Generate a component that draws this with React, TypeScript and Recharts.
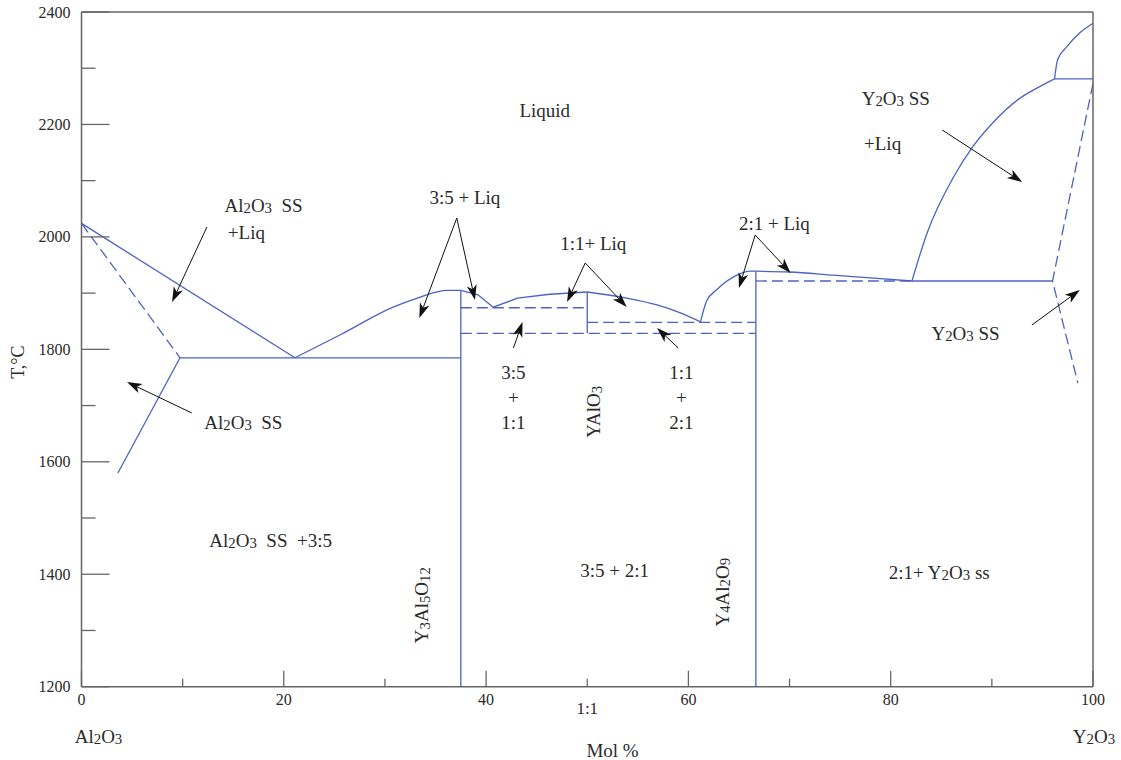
import React from 'react';
import { ComposedChart, Line, XAxis, YAxis, ReferenceLine, ReferenceDot } from 'recharts';

// ---------- axes ----------
const xTicks = [0, 10, 20, 30, 40, 50, 60, 70, 80, 90, 100];
const yTicks = [1200, 1300, 1400, 1500, 1600, 1700, 1800, 1900, 2000, 2100, 2200, 2300, 2400];
const xTickLabels = ['0', '20', '40', '60', '80', '100'];
const yTickLabels = ['1200', '1400', '1600', '1800', '2000', '2200', '2400'];
const endMemberLabels = [
  { value: 0, text: 'Al_2O_3' },
  { value: 100, text: 'Y_2O_3' },
];
const midCompositionLabel = { value: 50, text: '1:1' };
const xTitle = 'Mol %';
const yTitle = 'T,°C';

// ---------- phase boundaries (x = mol % Y2O3, t = °C) ----------
const al2o3Liquidus = [{ x: 0, t: 2024 }, { x: 21.1, t: 1785 }];
const yagLiquidusLeft = [
  { x: 21.1, t: 1785 }, { x: 25.6, t: 1826 }, { x: 30.8, t: 1875 },
  { x: 33.5, t: 1893 }, { x: 36.1, t: 1905 }, { x: 37.5, t: 1905 },
];
const yagToYap = [
  { x: 37.5, t: 1905 }, { x: 39.2, t: 1897 }, { x: 40.7, t: 1875 },
  { x: 43.1, t: 1891 }, { x: 46.3, t: 1898 }, { x: 50, t: 1902 },
];
const yapLiquidus = [
  { x: 50, t: 1902 }, { x: 53.9, t: 1891 }, { x: 56.9, t: 1879 },
  { x: 59.2, t: 1865 }, { x: 61.2, t: 1849 },
];
const yamLiquidusLeft = [
  { x: 61.2, t: 1849 }, { x: 61.8, t: 1886 }, { x: 62.8, t: 1906 },
  { x: 64.8, t: 1932 }, { x: 66.1, t: 1939 }, { x: 66.67, t: 1939 },
];
const yamLiquidusRight = [
  { x: 66.67, t: 1939 }, { x: 70, t: 1937.6 }, { x: 74.3, t: 1932 },
  { x: 78, t: 1927 }, { x: 82.1, t: 1921.6 },
];
const y2o3Liquidus = [
  { x: 82.1, t: 1921.6 }, { x: 83.6, t: 2007 }, { x: 86.2, t: 2106 },
  { x: 88.1, t: 2160 }, { x: 90.1, t: 2203 }, { x: 92.8, t: 2247 },
  { x: 94.5, t: 2265 }, { x: 96.2, t: 2281 },
];
const y2o3HighLiquidus = [
  { x: 96.2, t: 2281 }, { x: 96.5, t: 2315 }, { x: 97.4, t: 2338 },
  { x: 98.7, t: 2363 }, { x: 100, t: 2380 },
];
const y2o3Transition = [{ x: 96.2, t: 2281 }, { x: 100, t: 2281 }];
const y2o3Eutectic = [{ x: 82.1, t: 1921.6 }, { x: 96.0, t: 1921.6 }];
const y2o3Solvus = [{ x: 100, t: 2273 }, { x: 96.0, t: 1921.6 }, { x: 98.5, t: 1740 }];
const yamSolidus = [{ x: 66.67, t: 1921.6 }, { x: 82.1, t: 1921.6 }];
const al2o3Solvus = [{ x: 0, t: 2024 }, { x: 9.74, t: 1785 }];
const al2o3SsBoundary = [{ x: 9.74, t: 1785 }, { x: 3.6, t: 1580 }];
const al2o3Eutectic = [{ x: 9.74, t: 1785 }, { x: 37.5, t: 1785 }];
const yagLine = [{ x: 37.5, t: 1905 }, { x: 37.5, t: 1200 }];
const yamLine = [{ x: 66.67, t: 1939 }, { x: 66.67, t: 1200 }];
const yapLine = [{ x: 50, t: 1902 }, { x: 50, t: 1828.5 }];
const yagYapUpper = [{ x: 37.5, t: 1874 }, { x: 50, t: 1874 }];
const yagYamLower = [{ x: 37.5, t: 1828.5 }, { x: 66.67, t: 1828.5 }];
const yapYamUpper = [{ x: 50, t: 1848 }, { x: 66.67, t: 1848 }];

// ---------- annotation arrows (from -> tip) ----------
const arrows = [
  { fx: 12.4, ft: 2017.6, tx: 8.95, tt: 1884.2 },
  { fx: 10.9, ft: 1686.8, tx: 4.5, tt: 1741.9 },
  { fx: 37.1, ft: 2033.6, tx: 33.4, tt: 1855.8 },
  { fx: 37.1, ft: 2033.6, tx: 38.9, tt: 1887.8 },
  { fx: 49.8, ft: 1953.6, tx: 48.0, tt: 1884.2 },
  { fx: 49.8, ft: 1953.6, tx: 53.9, tt: 1875.3 },
  { fx: 42.7, ft: 1802.4, tx: 43.6, tt: 1848.6 },
  { fx: 59.0, ft: 1802.4, tx: 56.9, tt: 1838.0 },
  { fx: 66.6, ft: 2003.4, tx: 65.0, tt: 1909.1 },
  { fx: 66.6, ft: 2003.4, tx: 70.1, tt: 1935.8 },
  { fx: 85.1, ft: 2190.1, tx: 93.0, tt: 2097.6 },
  { fx: 93.96, ft: 1843.3, tx: 98.7, tt: 1905.6 },
];

// ---------- region labels ----------
const regionLabels = [
  { text: 'Liquid', x: 45.8, t: 2226, angle: 0 },
  { text: 'Al_2O_3  SS', x: 18.0, t: 2057, angle: 0 },
  { text: '+Liq', x: 16.3, t: 2009, angle: 0 },
  { text: '3:5 + Liq', x: 37.9, t: 2071, angle: 0 },
  { text: '1:1+ Liq', x: 50.6, t: 1989, angle: 0 },
  { text: '2:1 + Liq', x: 68.5, t: 2025, angle: 0 },
  { text: 'Y_2O_3 SS', x: 80.5, t: 2247, angle: 0 },
  { text: '+Liq', x: 79.2, t: 2167, angle: 0 },
  { text: 'Y_2O_3 SS', x: 87.4, t: 1829, angle: 0 },
  { text: 'Al_2O_3  SS', x: 16.0, t: 1671, angle: 0 },
  { text: '3:5', x: 42.7, t: 1760, angle: 0 },
  { text: '+', x: 42.7, t: 1715, angle: 0 },
  { text: '1:1', x: 42.7, t: 1671, angle: 0 },
  { text: '1:1', x: 59.3, t: 1760, angle: 0 },
  { text: '+', x: 59.3, t: 1715, angle: 0 },
  { text: '2:1', x: 59.3, t: 1671, angle: 0 },
  { text: 'YAlO_3', x: 50.6, t: 1689, angle: -90 },
  { text: 'Al_2O_3  SS  +3:5', x: 18.7, t: 1461, angle: 0 },
  { text: 'Y_3Al_5O_1_2', x: 33.6, t: 1345, angle: -90 },
  { text: '3:5 + 2:1', x: 52.7, t: 1408, angle: 0 },
  { text: 'Y_4Al_2O_9', x: 63.3, t: 1368, angle: -90 },
  { text: '2:1+ Y_2O_3 ss', x: 84.8, t: 1404, angle: 0 },
];

const BLUE = '#4c62c4';
const AXIS = '#666666';
const TEXT = '#2a2a2a';
const FONT = '"Liberation Serif", "Times New Roman", serif';

const boundaries = [
  { id: 'al2o3Liq', data: al2o3Liquidus, dashed: false, curve: 'linear' },
  { id: 'yagLiqL', data: yagLiquidusLeft, dashed: false, curve: 'monotoneX' },
  { id: 'yagYap', data: yagToYap, dashed: false, curve: 'linear' },
  { id: 'yapLiq', data: yapLiquidus, dashed: false, curve: 'monotoneX' },
  { id: 'yamLiqL', data: yamLiquidusLeft, dashed: false, curve: 'monotoneX' },
  { id: 'yamLiqR', data: yamLiquidusRight, dashed: false, curve: 'monotoneX' },
  { id: 'y2o3Liq', data: y2o3Liquidus, dashed: false, curve: 'monotoneX' },
  { id: 'y2o3High', data: y2o3HighLiquidus, dashed: false, curve: 'monotoneX' },
  { id: 'y2o3Tr', data: y2o3Transition, dashed: false, curve: 'linear' },
  { id: 'y2o3Eut', data: y2o3Eutectic, dashed: false, curve: 'linear' },
  { id: 'y2o3Solv', data: y2o3Solvus, dashed: true, curve: 'linear' },
  { id: 'yamSol', data: yamSolidus, dashed: true, curve: 'linear' },
  { id: 'al2o3Solv', data: al2o3Solvus, dashed: true, curve: 'linear' },
  { id: 'al2o3Ss', data: al2o3SsBoundary, dashed: false, curve: 'linear' },
  { id: 'al2o3Eut', data: al2o3Eutectic, dashed: false, curve: 'linear' },
  { id: 'yag', data: yagLine, dashed: false, curve: 'linear' },
  { id: 'yam', data: yamLine, dashed: false, curve: 'linear' },
  { id: 'yap', data: yapLine, dashed: false, curve: 'linear' },
  { id: 'yagYapU', data: yagYapUpper, dashed: true, curve: 'linear' },
  { id: 'yagYamL', data: yagYamLower, dashed: true, curve: 'linear' },
  { id: 'yapYamU', data: yapYamUpper, dashed: true, curve: 'linear' },
];

function parseRich(text: string) {
  const parts: { s: string; sub: boolean }[] = [];
  let i = 0;
  let buf = '';
  while (i < text.length) {
    if (text[i] === '_' && i + 1 < text.length) {
      if (buf) { parts.push({ s: buf, sub: false }); buf = ''; }
      const last = parts[parts.length - 1];
      if (last && last.sub) last.s += text[i + 1];
      else parts.push({ s: text[i + 1], sub: true });
      i += 2;
    } else {
      buf += text[i];
      i += 1;
    }
  }
  if (buf) parts.push({ s: buf, sub: false });
  return parts;
}

function RichText({ x, y, text, size, angle = 0, anchor = 'middle' }: any) {
  const parts = parseRich(text);
  const shift = size * 0.18;
  let lowered = false;
  const spans = parts.map((p, k) => {
    let dy = 0;
    if (p.sub && !lowered) { dy = shift; lowered = true; }
    else if (!p.sub && lowered) { dy = -shift; lowered = false; }
    return (
      <tspan key={k} dy={dy} fontSize={p.sub ? size * 0.78 : size}>
        {p.s}
      </tspan>
    );
  });
  return (
    <text
      x={x}
      y={y}
      textAnchor={anchor}
      dominantBaseline="central"
      fill={TEXT}
      fontFamily={FONT}
      fontSize={size}
      style={{ whiteSpace: 'pre' }}
      transform={angle ? `rotate(${angle} ${x} ${y})` : undefined}
    >
      {spans}
    </text>
  );
}

function Arrow(props: any) {
  const { x1, y1, x2, y2 } = props;
  if ([x1, y1, x2, y2].some((v) => typeof v !== 'number' || isNaN(v))) return null;
  const dx = x2 - x1;
  const dy = y2 - y1;
  const len = Math.sqrt(dx * dx + dy * dy) || 1;
  const ux = dx / len;
  const uy = dy / len;
  const hl = 15;
  const hw = 5;
  const bx = x2 - ux * hl;
  const by = y2 - uy * hl;
  const nx = x2 - ux * (hl - 4);
  const ny = y2 - uy * (hl - 4);
  const pts = [
    [x2, y2],
    [bx - uy * hw, by + ux * hw],
    [nx, ny],
    [bx + uy * hw, by - ux * hw],
  ].map((p) => p.join(',')).join(' ');
  return (
    <g>
      <line x1={x1} y1={y1} x2={nx} y2={ny} stroke="#111" strokeWidth={1} />
      <polygon points={pts} fill="#111" />
    </g>
  );
}

const BottomTick = (props: any) => {
  const { x, y, payload } = props;
  const v = payload.value;
  const major = v % 20 === 0;
  const label = xTickLabels.find((s) => Number(s) === v);
  const end = endMemberLabels.find((e) => e.value === v);
  return (
    <g>
      <line x1={x} y1={y} x2={x} y2={y - (major ? 16 : 8)} stroke={AXIS} strokeWidth={1.3} />
      {label !== undefined && (
        <text x={x} y={y + 13} textAnchor="middle" dominantBaseline="central" fill={TEXT} fontFamily={FONT} fontSize={16}>
          {label}
        </text>
      )}
      {v === midCompositionLabel.value && (
        <RichText x={x} y={y + 21} text={midCompositionLabel.text} size={17} />
      )}
      {end && <RichText x={x + (v === 0 ? 17 : 1)} y={y + 49} text={end.text} size={19} />}
    </g>
  );
};

const TopTick = (props: any) => {
  const { x, y, payload } = props;
  const major = payload.value % 20 === 0;
  return <line x1={x} y1={y} x2={x} y2={y + (major ? 16 : 7)} stroke={AXIS} strokeWidth={1.3} />;
};

const LeftTick = (props: any) => {
  const { x, y, payload } = props;
  const v = payload.value;
  const major = v % 200 === 0;
  const label = yTickLabels.find((s) => Number(s) === v);
  return (
    <g>
      <line x1={x} y1={y} x2={x + (major ? 28 : 14)} y2={y} stroke={AXIS} strokeWidth={1.3} />
      {label !== undefined && (
        <text x={x - 11} y={y} textAnchor="end" dominantBaseline="central" fill={TEXT} fontFamily={FONT} fontSize={16}>
          {label}
        </text>
      )}
    </g>
  );
};

const RightTick = (props: any) => {
  const { x, y, payload } = props;
  const major = payload.value % 200 === 0;
  return <line x1={x} y1={y} x2={x - (major ? 28 : 13)} y2={y} stroke={AXIS} strokeWidth={1.3} />;
};

export default function App() {
  return (
    <div style={{ position: 'absolute', left: 0, top: 0, width: 1121, height: 760 }}>
      <ComposedChart width={1121} height={760} margin={{ top: 0, right: 0, bottom: 0, left: 0 }}>
        <XAxis
          type="number"
          dataKey="x"
          domain={[0, 100]}
          ticks={xTicks}
          interval={0}
          height={73.3}
          tickSize={0}
          tickMargin={0}
          tickLine={false}
          axisLine={{ stroke: AXIS, strokeWidth: 1.5 }}
          tick={<BottomTick />}
          label={(p: any) => {
            const vb = p.viewBox;
            return (
              <RichText x={vb.x + vb.width * 0.525} y={vb.y + 63.5} text={xTitle} size={19} />
            );
          }}
        />
        <XAxis
          xAxisId="top"
          orientation="top"
          type="number"
          dataKey="x"
          domain={[0, 100]}
          ticks={xTicks}
          interval={0}
          height={12}
          tickSize={0}
          tickMargin={0}
          tickLine={false}
          axisLine={{ stroke: AXIS, strokeWidth: 1.5 }}
          tick={<TopTick />}
        />
        <YAxis
          type="number"
          dataKey="t"
          domain={[1200, 2400]}
          ticks={yTicks}
          interval={0}
          width={81.5}
          tickSize={0}
          tickMargin={0}
          tickLine={false}
          axisLine={{ stroke: AXIS, strokeWidth: 1.5 }}
          tick={<LeftTick />}
          label={(p: any) => {
            const vb = p.viewBox;
            return (
              <RichText x={vb.x + vb.width - 63.5} y={vb.y + vb.height * 0.519} text={yTitle} size={18} angle={-90} />
            );
          }}
        />
        <YAxis
          yAxisId="right"
          orientation="right"
          type="number"
          dataKey="t"
          domain={[1200, 2400]}
          ticks={yTicks}
          interval={0}
          width={28}
          tickSize={0}
          tickMargin={0}
          tickLine={false}
          axisLine={{ stroke: AXIS, strokeWidth: 1.5 }}
          tick={<RightTick />}
        />
        {boundaries.map((b) => (
          <Line
            key={b.id}
            data={b.data}
            dataKey="t"
            type={b.curve as any}
            stroke={BLUE}
            strokeWidth={1.3}
            strokeDasharray={b.dashed ? '11 5' : undefined}
            dot={false}
            activeDot={false}
            isAnimationActive={false}
            legendType="none"
          />
        ))}
        {arrows.map((a, i) => (
          <ReferenceLine
            key={'arrow' + i}
            segment={[{ x: a.fx, y: a.ft }, { x: a.tx, y: a.tt }]}
            shape={(p: any) => <Arrow {...p} />}
          />
        ))}
        {regionLabels.map((l, i) => (
          <ReferenceDot
            key={'lbl' + i}
            x={l.x}
            y={l.t}
            r={0}
            shape={(p: any) => <RichText x={p.cx} y={p.cy} text={l.text} size={19} angle={l.angle} />}
          />
        ))}
      </ComposedChart>
    </div>
  );
}
